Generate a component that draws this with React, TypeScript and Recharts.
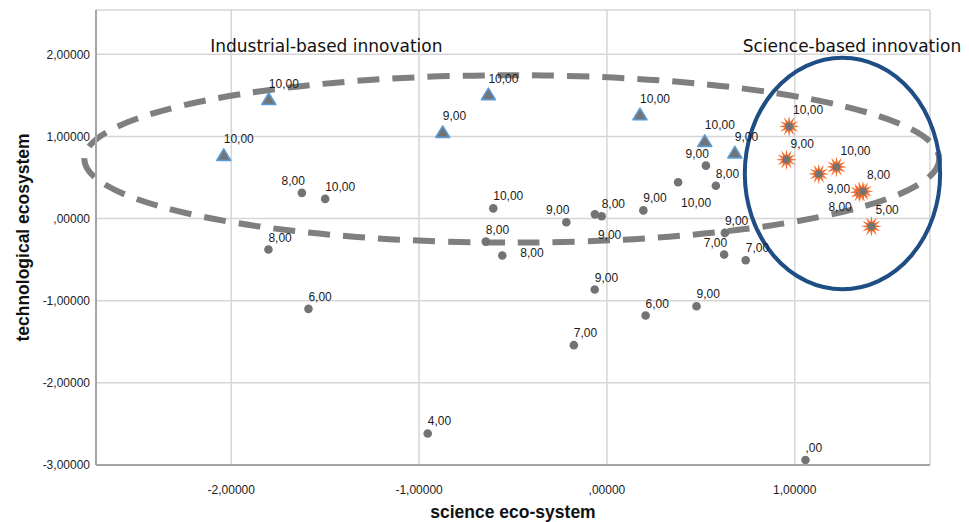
import React from 'react'
import {
  ScatterChart,
  Scatter,
  XAxis,
  YAxis,
  CartesianGrid,
  ReferenceArea,
  ReferenceDot,
} from 'recharts'

// colours picked off the SPSS export
const GRID = '#d6d6d6'
const AXIS = '#a6a6a6'
const DOT_GRAY = '#737373'
const TRI_EDGE = '#5b9bd5'
const STAR_ORANGE = '#f26b2b'
const DASH_GRAY = '#7f7f7f'
const NAVY = '#1f4e85'
const TICK_FONT = '"Liberation Sans", Arial, sans-serif'

// axis ticks
const xTicks = [-2, -1, 0, 1]
const yTicks = [-3, -2, -1, 0, 1, 2]

// blue triangles
const triX = [-2.04, -1.8, -0.874, -0.631, 0.176, 0.521, 0.681]
const triY = [0.77, 1.45, 1.05, 1.51, 1.265, 0.94, 0.8]
const triVal = [10, 10, 9, 10, 10, 10, 9]
const triPos = ['ur', 'ur', 'ur', 'ur', 'ur', 'ur', 'ur']

// grey circles
const dotX = [
  -1.624, -1.5, -1.802, -1.589, -0.954, -0.605, -0.645, -0.557, -0.216, -0.064, -0.028, 0.194,
  -0.065, -0.176, 0.206, 0.527, 0.379, 0.58, 0.628, 0.624, 0.739, 0.477, 1.057,
]
const dotY = [
  0.313, 0.24, -0.377, -1.099, -2.616, 0.125, -0.28, -0.45, -0.045, 0.052, 0.028, 0.1,
  -0.864, -1.541, -1.18, 0.645, 0.442, 0.401, -0.174, -0.438, -0.507, -1.067, -2.94,
]
const dotVal = [8, 10, 8, 6, 4, 10, 8, 8, 9, 9, 8, 9, 9, 7, 6, 9, 10, 8, 9, 7, 7, 9, 0]
const dotPos = [
  'ul', 'ur', 'ur', 'ur', 'ur', 'ur', 'ur', 'r', 'ul', 'dr', 'ur', 'ur',
  'ur', 'ur', 'ur', 'ul', 'dr', 'ur', 'ur', 'ul', 'ur', 'ur', 'ur',
]

// orange stars
const starX = [0.97, 0.956, 1.128, 1.222, 1.346, 1.363, 1.408]
const starY = [1.123, 0.718, 0.544, 0.629, 0.32, 0.332, -0.094]
const starVal = [10, 9, 9, 10, 8, 8, 5]
const starPos = ['ur', 'ur', 'dr', 'ur', 'dl', 'ur', 'ur']

const build = (xs: number[], ys: number[], vals: number[], pos: string[]) =>
  xs.map((x, i) => ({ x, y: ys[i], v: vals[i], pos: pos[i] }))

const triangles = build(triX, triY, triVal, triPos)
const dots = build(dotX, dotY, dotVal, dotPos)
const stars = build(starX, starY, starVal, starPos)

// SPSS drops the leading zero: ,00000 / ,00
const spss = (v: number, d: number) => v.toFixed(d).replace('.', ',').replace(/^(-?)0,/, '$1,')

type Off = Record<string, [number, number, 'start' | 'end']>
const circleOff: Off = { ur: [0, -8, 'start'], ul: [3, -8, 'end'], r: [18, 1, 'start'], dr: [3, 25, 'start'] }
const triOff: Off = { ur: [0, -12, 'start'] }
const starOff: Off = { ur: [4, -12, 'start'], dr: [8, 19, 'start'], dl: [-8, 19, 'end'] }

function PointLabel({ cx, cy, v, pos, off }: { cx: number; cy: number; v: number; pos: string; off: Off }) {
  const [dx, dy, anchor] = off[pos] ?? off.ur
  return (
    <text x={cx + dx} y={cy + dy} textAnchor={anchor} fontSize={12} fontFamily={TICK_FONT} fill="#1a1a1a">
      {spss(v, 2)}
    </text>
  )
}

const DotShape = (p: any) => (
  <g>
    <circle cx={p.cx} cy={p.cy} r={4.3} fill={DOT_GRAY} />
    <PointLabel cx={p.cx} cy={p.cy} v={p.payload.v} pos={p.payload.pos} off={circleOff} />
  </g>
)

const TriShape = (p: any) => (
  <g>
    <path
      d={`M${p.cx},${p.cy - 6.5} L${p.cx + 7},${p.cy + 5} L${p.cx - 7},${p.cy + 5} Z`}
      fill={DOT_GRAY}
      stroke={TRI_EDGE}
      strokeWidth={1.6}
      strokeLinejoin="round"
    />
    <PointLabel cx={p.cx} cy={p.cy} v={p.payload.v} pos={p.payload.pos} off={triOff} />
  </g>
)

const StarShape = (p: any) => {
  const pts: string[] = []
  for (let k = 0; k < 24; k++) {
    const a = (k * Math.PI) / 12 - Math.PI / 2
    const r = k % 2 === 0 ? 10.5 : 4.5
    pts.push(`${p.cx + r * Math.cos(a)},${p.cy + r * Math.sin(a)}`)
  }
  return (
    <g>
      <polygon points={pts.join(' ')} fill={STAR_ORANGE} />
      <circle cx={p.cx} cy={p.cy} r={3.8} fill={DOT_GRAY} />
      <PointLabel cx={p.cx} cy={p.cy} v={p.payload.v} pos={p.payload.pos} off={starOff} />
    </g>
  )
}

// ellipse inscribed in the reference area box
const ellipseShape = (stroke: string, width: number, dash?: string) => (p: any) =>
  (
    <ellipse
      cx={p.x + p.width / 2}
      cy={p.y + p.height / 2}
      rx={Math.abs(p.width) / 2}
      ry={Math.abs(p.height) / 2}
      fill="none"
      stroke={stroke}
      strokeWidth={width}
      strokeDasharray={dash}
    />
  )

const noteShape = (text: string) => (p: any) =>
  (
    <text x={p.cx} y={p.cy} fontSize={17} fontFamily='"DejaVu Sans", Verdana, sans-serif' fill="#111">
      {text}
    </text>
  )

export default function App() {
  return (
    <div style={{ width: 969, height: 522, background: '#fff' }}>
      <style>{'body{margin:0}'}</style>
      <ScatterChart width={969} height={522} margin={{ top: 10, right: 39, bottom: 0, left: 0 }}>
        <CartesianGrid stroke={GRID} strokeWidth={1.5} />
        <XAxis
          type="number"
          dataKey="x"
          domain={[-2.72, 1.72]}
          ticks={xTicks}
          allowDataOverflow
          height={57}
          tickLine={false}
          tickSize={6}
          tickMargin={14}
          axisLine={{ stroke: AXIS, strokeWidth: 2 }}
          tick={{ fontSize: 12, fill: '#222', fontFamily: TICK_FONT }}
          tickFormatter={(v: number) => spss(v, 5)}
          label={{
            value: 'science eco-system',
            position: 'insideBottom',
            offset: 4,
            style: { fontSize: 17.5, fontWeight: 'bold', fill: '#111', fontFamily: TICK_FONT },
          }}
        />
        <YAxis
          type="number"
          dataKey="y"
          domain={[-3, 2.54]}
          ticks={yTicks}
          allowDataOverflow
          width={96}
          tickLine={false}
          tickSize={4}
          tickMargin={2}
          axisLine={{ stroke: AXIS, strokeWidth: 2 }}
          tick={{ fontSize: 12, fill: '#222', fontFamily: TICK_FONT }}
          tickFormatter={(v: number) => spss(v, 5)}
          label={{
            value: 'technological ecosystem',
            angle: -90,
            position: 'insideLeft',
            offset: 23,
            style: { textAnchor: 'middle', fontSize: 17.5, fontWeight: 'bold', fill: '#111', fontFamily: TICK_FONT },
          }}
        />
        <Scatter data={dots} shape={DotShape} isAnimationActive={false} />
        <Scatter data={triangles} shape={TriShape} isAnimationActive={false} />
        <Scatter data={stars} shape={StarShape} isAnimationActive={false} />
        <ReferenceArea
          x1={-2.782}
          x2={1.769}
          y1={1.746}
          y2={-0.292}
          ifOverflow="visible"
          shape={ellipseShape(DASH_GRAY, 6, '22 13')}
        />
        <ReferenceArea
          x1={0.734}
          x2={1.774}
          y1={1.959}
          y2={-0.86}
          ifOverflow="visible"
          shape={ellipseShape(NAVY, 4)}
        />
        <ReferenceDot x={-2.112} y={2.032} ifOverflow="visible" shape={noteShape('Industrial-based innovation')} />
        <ReferenceDot x={0.723} y={2.032} ifOverflow="visible" shape={noteShape('Science-based innovation')} />
      </ScatterChart>
    </div>
  )
}
